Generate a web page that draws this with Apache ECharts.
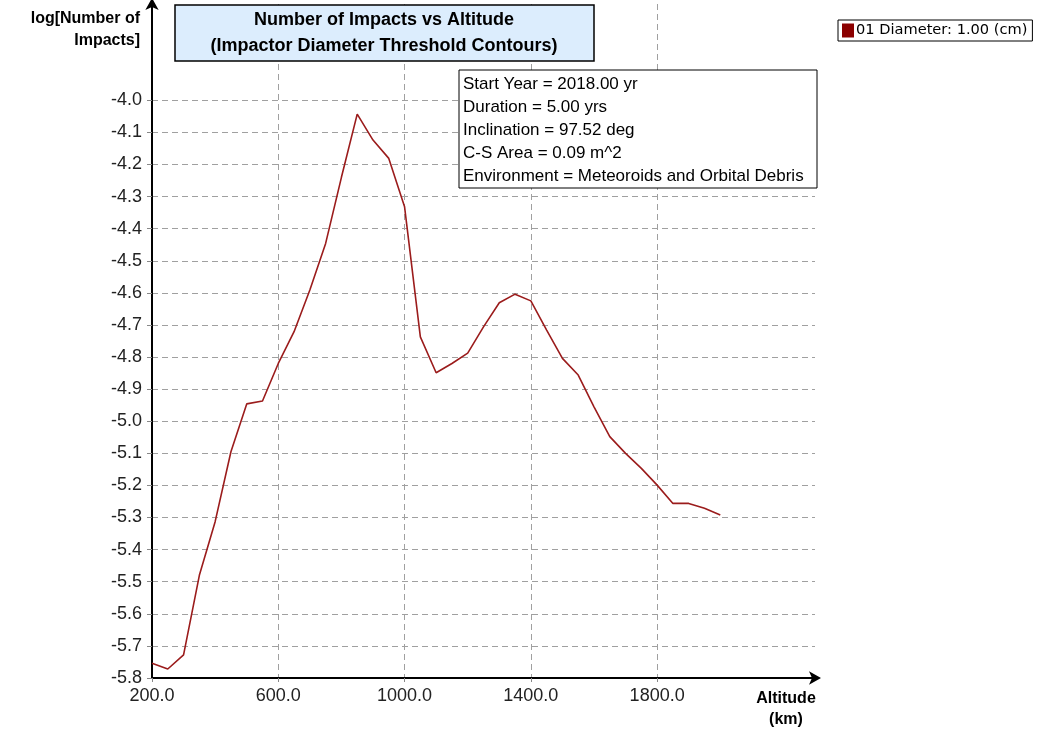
<!DOCTYPE html>
<html>
<head>
<meta charset="utf-8">
<script src="https://cdn.jsdelivr.net/npm/echarts@6/dist/echarts.min.js"></script>
<style>
  html, body { margin: 0; padding: 0; background: #fff; }
  #chart { width: 1041px; height: 735px; }
</style>
</head>
<body>
<div id="chart"></div>
<script>
// altitude (km) and log10 of number of impacts
var altitudes = [200, 250, 300, 350, 400, 450, 500, 550, 600, 650, 700, 750, 800, 850, 900, 950,
  1000, 1050, 1100, 1150, 1200, 1250, 1300, 1350, 1400, 1450, 1500, 1550, 1600, 1650, 1700,
  1750, 1800, 1850, 1900, 1950, 2000];
var logImpacts = [-5.754, -5.772, -5.728, -5.48, -5.313, -5.095, -4.946, -4.937, -4.820, -4.721,
  -4.591, -4.446, -4.240, -4.043, -4.124, -4.181, -4.332, -4.737, -4.849, -4.820, -4.788,
  -4.706, -4.631, -4.604, -4.625, -4.716, -4.804, -4.856, -4.955, -5.048, -5.100, -5.147,
  -5.199, -5.256, -5.256, -5.271, -5.292];

var xTicks = [200, 600, 1000, 1400, 1800];
var yTicks = [-5.8, -5.7, -5.6, -5.5, -5.4, -5.3, -5.2, -5.1, -5.0, -4.9, -4.8, -4.7, -4.6,
  -4.5, -4.4, -4.3, -4.2, -4.1, -4.0];

var seriesName = '01 Diameter: 1.00 (cm)';
var titleLines = ['Number of Impacts vs Altitude', '(Impactor Diameter Threshold Contours)'];
var infoLines = [
  'Start Year = 2018.00 yr',
  'Duration = 5.00 yrs',
  'Inclination = 97.52 deg',
  'C-S Area = 0.09 m^2',
  'Environment = Meteoroids and Orbital Debris'
];

var chart = echarts.init(document.getElementById('chart'));

var gridLine = { show: true, lineStyle: { color: '#a0a0a0', type: [6, 4], width: 1 } };

var option = {
  animation: false,
  textStyle: { fontFamily: 'Liberation Sans' },
  legend: {
    left: 838,
    top: 20,
    orient: 'vertical',
    padding: [3, 5, 3, 4],
    borderColor: '#000',
    borderWidth: 1,
    icon: 'rect',
    itemWidth: 12,
    itemHeight: 14,
    itemGap: 0,
    textStyle: { fontFamily: 'DejaVu Sans', fontSize: 14.6, color: '#000', padding: [0, 0, 0, -3] },
    data: [seriesName]
  },
  grid: { left: 152, right: 226, top: 4, bottom: 57 },
  xAxis: {
    type: 'value',
    min: 200,
    max: 2300,
    interval: 400,
    axisLine: {
      lineStyle: { color: '#000', width: 2 },
      symbol: ['none', 'arrow'],
      symbolSize: [10, 12],
      symbolOffset: [0, 6]
    },
    axisTick: { show: true, length: 4, lineStyle: { color: '#888' }, customValues: xTicks },
    axisLabel: {
      customValues: xTicks,
      margin: 9,
      fontSize: 18,
      color: '#222',
      formatter: function (v) { return v.toFixed(1); }
    },
    splitLine: gridLine
  },
  yAxis: {
    type: 'value',
    min: -5.8,
    max: -3.7,
    interval: 0.1,
    axisLine: {
      show: true,
      lineStyle: { color: '#000', width: 2 },
      symbol: ['none', 'arrow'],
      symbolSize: [10, 12],
      symbolOffset: [0, 6]
    },
    axisTick: { show: true, length: 5, lineStyle: { color: '#888' }, customValues: yTicks },
    axisLabel: {
      customValues: yTicks,
      margin: 10,
      fontSize: 18,
      color: '#222',
      formatter: function (v) { return v.toFixed(1); }
    },
    splitLine: gridLine
  },
  series: [{
    name: seriesName,
    type: 'line',
    data: altitudes.map(function (a, i) { return [a, logImpacts[i]]; }),
    showSymbol: false,
    itemStyle: { color: '#8b0000' },
    lineStyle: { color: '#9b1c1c', width: 1.6 }
  }],
  graphic: [
    {
      type: 'rect', shape: { x: 175, y: 5, width: 419, height: 56 },
      style: { fill: '#dcedfd', stroke: '#000', lineWidth: 1.5 }, z: 10
    },
    {
      type: 'text', x: 384, y: 7, z: 11,
      style: {
        text: titleLines.join('\n'), fill: '#000', align: 'center',
        font: 'bold 18px "Liberation Sans"', lineHeight: 26
      }
    },
    {
      type: 'text', x: 140, y: 8,
      style: {
        text: 'log[Number of\nImpacts]', fill: '#000', align: 'right',
        font: 'bold 16px "Liberation Sans"', lineHeight: 22
      }
    },
    {
      type: 'text', x: 786, y: 688,
      style: {
        text: 'Altitude\n(km)', fill: '#000', align: 'center',
        font: 'bold 16px "Liberation Sans"', lineHeight: 21
      }
    },
    {
      type: 'rect', shape: { x: 459, y: 70, width: 358, height: 118 }, z: 10,
      style: { fill: '#fff', stroke: '#000', lineWidth: 1 }
    },
    {
      type: 'text', x: 463, y: 73, z: 11,
      style: {
        text: infoLines.join('\n'), fill: '#000',
        font: '17px "Liberation Sans"', lineHeight: 23
      }
    }
  ]
};

chart.setOption(option);
</script>
</body>
</html>
